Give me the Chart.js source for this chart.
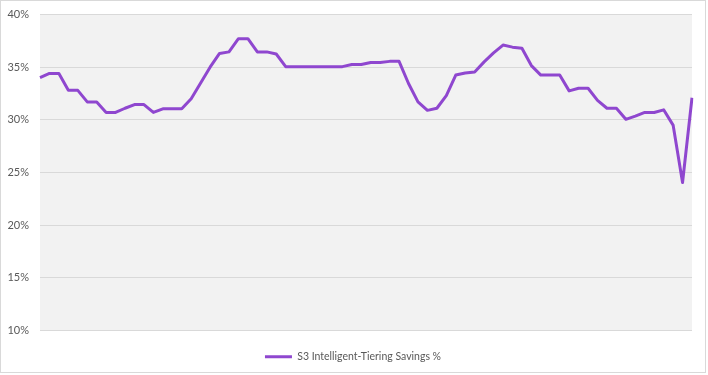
<!DOCTYPE html>
<html>
<head>
<meta charset="utf-8">
<script src="https://cdn.jsdelivr.net/npm/chart.js@4/dist/chart.umd.min.js"></script>
<style>
  html, body { margin: 0; padding: 0; background: #ffffff; }
  #wrap { width: 704px; height: 371px; border: 1px solid #d9d9d9; position: relative; }
</style>
</head>
<body>
<div id="wrap"><canvas id="savingsChart" width="704" height="371"></canvas></div>
<script>
// 70 periods, no labels shown on the x axis in the original
const periods = Array.from({ length: 70 }, (_, i) => String(i + 1));

// S3 Intelligent-Tiering savings, in percent
const savings = [
  34.0, 34.4, 34.4, 32.8, 32.8, 31.7, 31.7, 30.7, 30.7, 31.1,
  31.45, 31.45, 30.7, 31.05, 31.05, 31.05, 32.0, 33.5, 35.0, 36.3,
  36.45, 37.7, 37.7, 36.45, 36.45, 36.25, 35.05, 35.05, 35.05, 35.05,
  35.05, 35.05, 35.05, 35.25, 35.25, 35.45, 35.45, 35.55, 35.55, 33.45,
  31.7, 30.9, 31.1, 32.3, 34.25, 34.45, 34.55, 35.5, 36.35, 37.1,
  36.9, 36.8, 35.15, 34.25, 34.25, 34.25, 32.75, 33.0, 33.0, 31.85,
  31.1, 31.1, 30.05, 30.35, 30.7, 30.7, 30.95, 29.5, 24.05, 32.1
];

const yMin = 10;
const yMax = 40;
const yStep = 5;

const plotBackground = {
  id: "plotBackground",
  beforeDraw(chart) {
    const { ctx, chartArea } = chart;
    ctx.save();
    ctx.fillStyle = "#f2f2f2";
    ctx.fillRect(chartArea.left, chartArea.top, chartArea.right - chartArea.left, chartArea.bottom - chartArea.top);
    ctx.restore();
  }
};

const ctx = document.getElementById("savingsChart");
new Chart(ctx, {
  type: "line",
  data: {
    labels: periods,
    datasets: [{
      label: "S3 Intelligent-Tiering Savings %",
      data: savings,
      borderColor: "#8f47cf",
      backgroundColor: "#8f47cf",
      borderWidth: 3,
      borderJoinStyle: "round",
      pointRadius: 0,
      tension: 0
    }]
  },
  options: {
    responsive: false,
    animation: false,
    layout: { padding: { left: 0, right: 0, top: 13.5, bottom: 0 } },
    scales: {
      x: { display: false, offset: false },
      y: {
        min: yMin,
        max: yMax,
        border: { display: false },
        grid: { color: "#d9d9d9", lineWidth: 1, drawTicks: true, tickLength: 7, tickColor: "rgba(0,0,0,0)" },
        ticks: {
          stepSize: yStep,
          padding: 4,
          color: "#595959",
          font: { family: "Lato", size: 11 },
          callback: v => v + "%"
        },
        afterFit(scale) { scale.width = 39; }
      },
      // empty right-hand gutter so the legend stays centred on the whole canvas
      gutter: {
        type: "linear",
        position: "right",
        display: true,
        grid: { display: false },
        border: { display: false },
        ticks: { display: false },
        afterFit(scale) { scale.width = 13; }
      }
    },
    plugins: {
      legend: {
        position: "bottom",
        labels: {
          usePointStyle: true,
          pointStyle: "line",
          pointStyleWidth: 27,
          color: "#595959",
          font: { family: "Lato", size: 10.5 },
          padding: 21
        }
      },
      tooltip: { enabled: false }
    }
  },
  plugins: [plotBackground]
});
</script>
</body>
</html>
